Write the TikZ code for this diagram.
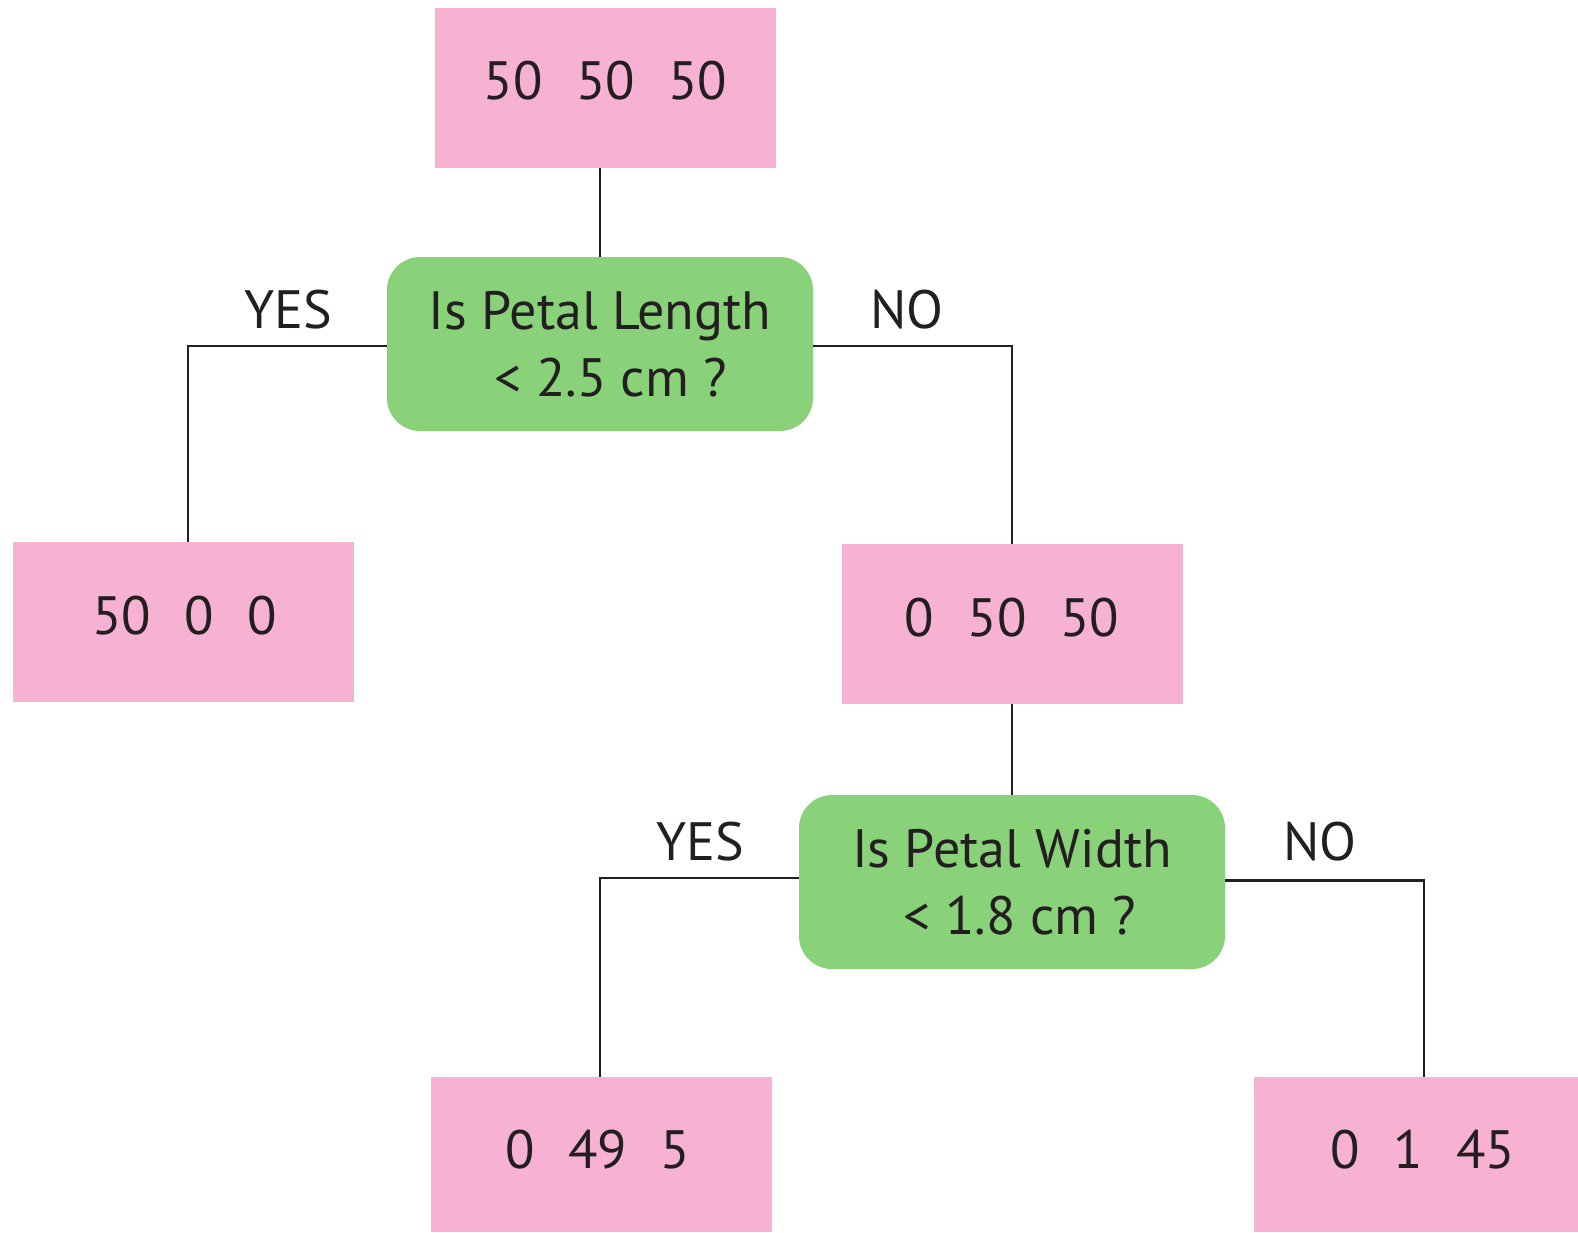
\documentclass[tikz,border=0pt]{standalone}
\usepackage{fontspec}
\setmainfont{PT Sans}
\definecolor{leafpink}{RGB}{247,177,210}
\definecolor{askgreen}{RGB}{137,210,121}
\definecolor{ink}{RGB}{35,31,32}
\begin{document}
\begin{tikzpicture}[x=1pt,y=-1pt,
  every node/.style={inner sep=0pt,outer sep=0pt,text=ink,
    font=\fontsize{54}{67}\selectfont},
  leaf/.style={fill=leafpink,minimum width=341pt,minimum height=160pt},
  ask/.style={fill=askgreen,rounded corners=33pt,minimum width=426pt,
    minimum height=174pt,align=center},
  branch/.style={draw=ink,line width=2.3pt},
  answer/.style={anchor=base}]
\useasboundingbox (0,0) rectangle (1578,1232);
\newcommand{\gap}{\hspace{0.62em}}
% counts at each node of the tree
\node[leaf] (root) at (605.5,88) {};
\node[anchor=base] (roottxt) at (605.5,99) {50\gap50\gap50};
\node[leaf] (yes1) at (183.5,622) {};
\node[anchor=base] (yes1txt) at (184.5,634) {50\gap0\gap0};
\node[leaf] (no1) at (1012,624) {};
\node[anchor=base] (no1txt) at (1012,636) {0\gap50\gap50};
\node[leaf,minimum height=155pt] (yes2) at (601,1154.5) {};
\node[anchor=base] (yes2txt) at (598,1168) {0\gap49\gap5};
\node[leaf,minimum width=324pt,minimum height=155pt] (no2) at (1416,1154.5) {};
\node[anchor=base] (no2txt) at (1423,1168) {0\gap1\gap45};
% questions
\node[ask] (q1) at (600,344) {Is Petal Length\\\hspace*{0.4em}< 2.5 cm ?};
\node[ask] (q2) at (1012,882) {Is Petal Width\\\hspace*{0.3em}< 1.8 cm ?};
% branches
\draw[branch] (q1.north) -- (q1.north |- root.south);
\draw[branch] ([yshift=-2pt]q1.west) -| ([xshift=4.5pt]yes1.north);
\draw[branch] ([yshift=-2pt]q1.east) -| (no1.north);
\draw[branch] (no1.south) -- (q2.north);
\draw[branch] ([yshift=4pt]q2.west) -| ([xshift=-1pt]yes2.north);
\draw[branch] ([yshift=1.5pt]q2.east) -| ([xshift=8pt]no2.north);
% branch labels
\node[answer] (lyes1) at (288,328) {YES};
\node[answer] (lno1) at (907,328) {NO};
\node[answer] (lyes2) at (700,860) {YES};
\node[answer] (lno2) at (1320,860) {NO};
\end{tikzpicture}
\end{document}
